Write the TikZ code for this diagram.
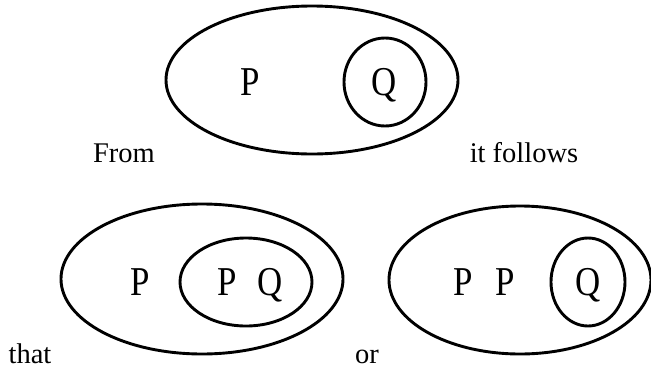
\documentclass[tikz,border=0pt]{standalone}
\usepackage{fontspec}
\setmainfont{Liberation Serif}
\newfontfamily\setletters[FakeStretch=0.85]{Liberation Serif}
\begin{document}
\begin{tikzpicture}[x=1pt,y=-1pt,
  set/.style={line width=2.9pt},
  letter/.style={anchor=base,inner sep=0pt,font=\setletters\fontsize{41}{44}\selectfont},
  word/.style={anchor=base,inner sep=0pt,font=\fontsize{28.5}{32}\selectfont}]
\useasboundingbox (0,0) rectangle (651,370);
% premise: Q inside P
\draw[set] (312,80) ellipse (146 and 74);
\draw[set] (385,82) ellipse (41 and 44);
\node[letter] (p0) at (250,95) {P};
\node[letter] (q0) at (384,95) {Q};
\node[word] (from) at (124,162) {From};
\node[word] (follows) at (524,162) {it follows};
% first conclusion: P and Q together inside P
\draw[set] (202,279) ellipse (141 and 75);
\draw[set] (246,282) ellipse (66 and 44);
\node[letter] (p1) at (140,295) {P};
\node[letter] (p1i) at (227,295) {P};
\node[letter] (q1) at (270,295) {Q};
\node[word] (that) at (30,363) {that};
% second conclusion: Q on its own
\draw[set] (520,280) ellipse (131 and 74);
\draw[set] (588,282) ellipse (37 and 44);
\node[letter] (p2) at (463,295) {P};
\node[letter] (p2i) at (505,295) {P};
\node[letter] (q2) at (588,295) {Q};
\node[word] (or) at (367,363) {or};
\end{tikzpicture}
\end{document}
